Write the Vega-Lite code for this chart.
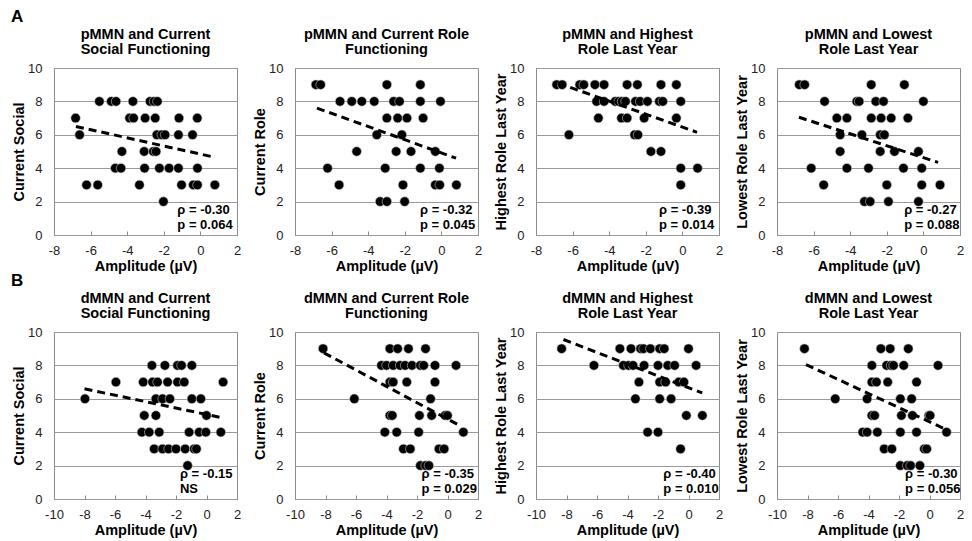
{
  "$schema": "https://vega.github.io/schema/vega-lite/v6.json",
  "padding": {"left": 11, "top": 8, "right": 0, "bottom": 0},
  "background": "white",
  "datasets": {
    "pts": [
      {"panel":"p1","amp":-5.52,"score":8},{"panel":"p1","amp":-4.87,"score":8},{"panel":"p1","amp":-4.61,"score":8},{"panel":"p1","amp":-3.69,"score":8},{"panel":"p1","amp":-2.75,"score":8},{"panel":"p1","amp":-2.53,"score":8},{"panel":"p1","amp":-2.35,"score":8},
      {"panel":"p1","amp":-6.82,"score":7},{"panel":"p1","amp":-3.87,"score":7},{"panel":"p1","amp":-3.65,"score":7},{"panel":"p1","amp":-3.02,"score":7},{"panel":"p1","amp":-2.47,"score":7},{"panel":"p1","amp":-1.17,"score":7},{"panel":"p1","amp":-0.17,"score":7},
      {"panel":"p1","amp":-6.6,"score":6},{"panel":"p1","amp":-2.38,"score":6},{"panel":"p1","amp":-2.11,"score":6},{"panel":"p1","amp":-1.93,"score":6},{"panel":"p1","amp":-1.2,"score":6},{"panel":"p1","amp":-0.43,"score":6},
      {"panel":"p1","amp":-4.29,"score":5},{"panel":"p1","amp":-3.07,"score":5},{"panel":"p1","amp":-2.57,"score":5},{"panel":"p1","amp":-2.42,"score":5},
      {"panel":"p1","amp":-4.65,"score":4},{"panel":"p1","amp":-4.34,"score":4},{"panel":"p1","amp":-3.05,"score":4},{"panel":"p1","amp":-2.24,"score":4},{"panel":"p1","amp":-1.71,"score":4},{"panel":"p1","amp":-1.2,"score":4},{"panel":"p1","amp":-0.16,"score":4},
      {"panel":"p1","amp":-6.22,"score":3},{"panel":"p1","amp":-5.61,"score":3},{"panel":"p1","amp":-3.33,"score":3},{"panel":"p1","amp":-1.03,"score":3},{"panel":"p1","amp":-0.39,"score":3},{"panel":"p1","amp":-0.16,"score":3},{"panel":"p1","amp":0.79,"score":3},
      {"panel":"p1","amp":-2.02,"score":2},

      {"panel":"p2","amp":-6.86,"score":9},{"panel":"p2","amp":-6.6,"score":9},{"panel":"p2","amp":-2.98,"score":9},{"panel":"p2","amp":-1.15,"score":9},
      {"panel":"p2","amp":-5.54,"score":8},{"panel":"p2","amp":-4.9,"score":8},{"panel":"p2","amp":-4.35,"score":8},{"panel":"p2","amp":-3.67,"score":8},{"panel":"p2","amp":-2.61,"score":8},{"panel":"p2","amp":-2.29,"score":8},{"panel":"p2","amp":-1.15,"score":8},{"panel":"p2","amp":-0.05,"score":8},
      {"panel":"p2","amp":-2.98,"score":7},{"panel":"p2","amp":-2.39,"score":7},{"panel":"p2","amp":-1.88,"score":7},{"panel":"p2","amp":-1.0,"score":7},
      {"panel":"p2","amp":-3.53,"score":6},{"panel":"p2","amp":-2.16,"score":6},
      {"panel":"p2","amp":-4.63,"score":5},{"panel":"p2","amp":-2.47,"score":5},{"panel":"p2","amp":-1.66,"score":5},{"panel":"p2","amp":-0.33,"score":5},
      {"panel":"p2","amp":-6.22,"score":4},{"panel":"p2","amp":-3.07,"score":4},{"panel":"p2","amp":-1.15,"score":4},{"panel":"p2","amp":-0.11,"score":4},
      {"panel":"p2","amp":-5.59,"score":3},{"panel":"p2","amp":-2.1,"score":3},{"panel":"p2","amp":-0.33,"score":3},{"panel":"p2","amp":-0.09,"score":3},{"panel":"p2","amp":0.82,"score":3},
      {"panel":"p2","amp":-3.35,"score":2},{"panel":"p2","amp":-2.98,"score":2},{"panel":"p2","amp":-2.01,"score":2},

      {"panel":"p3","amp":-6.87,"score":9},{"panel":"p3","amp":-6.57,"score":9},{"panel":"p3","amp":-5.61,"score":9},{"panel":"p3","amp":-5.39,"score":9},{"panel":"p3","amp":-4.78,"score":9},{"panel":"p3","amp":-4.28,"score":9},{"panel":"p3","amp":-3.02,"score":9},{"panel":"p3","amp":-2.46,"score":9},{"panel":"p3","amp":-1.17,"score":9},{"panel":"p3","amp":-0.33,"score":9},
      {"panel":"p3","amp":-4.69,"score":8},{"panel":"p3","amp":-4.28,"score":8},{"panel":"p3","amp":-3.67,"score":8},{"panel":"p3","amp":-3.48,"score":8},{"panel":"p3","amp":-3.3,"score":8},{"panel":"p3","amp":-3.11,"score":8},{"panel":"p3","amp":-2.56,"score":8},{"panel":"p3","amp":-2.31,"score":8},{"panel":"p3","amp":-1.91,"score":8},{"panel":"p3","amp":-1.26,"score":8},{"panel":"p3","amp":-1.07,"score":8},{"panel":"p3","amp":-0.09,"score":8},
      {"panel":"p3","amp":-4.59,"score":7},{"panel":"p3","amp":-3.33,"score":7},{"panel":"p3","amp":-3.02,"score":7},{"panel":"p3","amp":-2.09,"score":7},{"panel":"p3","amp":-0.33,"score":7},
      {"panel":"p3","amp":-6.2,"score":6},{"panel":"p3","amp":-2.61,"score":6},{"panel":"p3","amp":-2.43,"score":6},
      {"panel":"p3","amp":-1.72,"score":5},{"panel":"p3","amp":-1.17,"score":5},
      {"panel":"p3","amp":-0.09,"score":4},{"panel":"p3","amp":0.83,"score":4},
      {"panel":"p3","amp":-0.09,"score":3},

      {"panel":"p4","amp":-6.78,"score":9},{"panel":"p4","amp":-6.49,"score":9},{"panel":"p4","amp":-2.85,"score":9},{"panel":"p4","amp":-1.04,"score":9},
      {"panel":"p4","amp":-5.4,"score":8},{"panel":"p4","amp":-3.64,"score":8},{"panel":"p4","amp":-3.51,"score":8},{"panel":"p4","amp":-2.6,"score":8},{"panel":"p4","amp":-2.18,"score":8},{"panel":"p4","amp":0.0,"score":8},
      {"panel":"p4","amp":-4.73,"score":7},{"panel":"p4","amp":-4.18,"score":7},{"panel":"p4","amp":-2.85,"score":7},{"panel":"p4","amp":-2.31,"score":7},{"panel":"p4","amp":-1.76,"score":7},{"panel":"p4","amp":-0.85,"score":7},
      {"panel":"p4","amp":-4.55,"score":6},{"panel":"p4","amp":-3.36,"score":6},{"panel":"p4","amp":-2.36,"score":6},{"panel":"p4","amp":-2.13,"score":6},
      {"panel":"p4","amp":-4.55,"score":5},{"panel":"p4","amp":-2.36,"score":5},{"panel":"p4","amp":-1.58,"score":5},{"panel":"p4","amp":-0.27,"score":5},
      {"panel":"p4","amp":-6.13,"score":4},{"panel":"p4","amp":-4.18,"score":4},{"panel":"p4","amp":-3.0,"score":4},{"panel":"p4","amp":-1.09,"score":4},{"panel":"p4","amp":-0.09,"score":4},
      {"panel":"p4","amp":-5.45,"score":3},{"panel":"p4","amp":-2.0,"score":3},{"panel":"p4","amp":-0.09,"score":3},{"panel":"p4","amp":0.91,"score":3},
      {"panel":"p4","amp":-3.22,"score":2},{"panel":"p4","amp":-2.91,"score":2},{"panel":"p4","amp":-1.91,"score":2},{"panel":"p4","amp":-0.27,"score":2},

      {"panel":"p5","amp":-3.58,"score":8},{"panel":"p5","amp":-2.73,"score":8},{"panel":"p5","amp":-1.9,"score":8},{"panel":"p5","amp":-1.64,"score":8},{"panel":"p5","amp":-0.96,"score":8},
      {"panel":"p5","amp":-5.94,"score":7},{"panel":"p5","amp":-4.15,"score":7},{"panel":"p5","amp":-3.54,"score":7},{"panel":"p5","amp":-3.21,"score":7},{"panel":"p5","amp":-2.55,"score":7},{"panel":"p5","amp":-1.9,"score":7},{"panel":"p5","amp":-1.46,"score":7},{"panel":"p5","amp":1.09,"score":7},
      {"panel":"p5","amp":-7.97,"score":6},{"panel":"p5","amp":-3.32,"score":6},{"panel":"p5","amp":-2.88,"score":6},{"panel":"p5","amp":-2.4,"score":6},{"panel":"p5","amp":-0.96,"score":6},{"panel":"p5","amp":-0.37,"score":6},
      {"panel":"p5","amp":-4.08,"score":5},{"panel":"p5","amp":-3.32,"score":5},{"panel":"p5","amp":0.0,"score":5},
      {"panel":"p5","amp":-4.24,"score":4},{"panel":"p5","amp":-3.76,"score":4},{"panel":"p5","amp":-3.1,"score":4},{"panel":"p5","amp":-1.14,"score":4},{"panel":"p5","amp":-0.48,"score":4},{"panel":"p5","amp":-0.04,"score":4},{"panel":"p5","amp":0.94,"score":4},
      {"panel":"p5","amp":-3.43,"score":3},{"panel":"p5","amp":-2.88,"score":3},{"panel":"p5","amp":-2.49,"score":3},{"panel":"p5","amp":-2.0,"score":3},{"panel":"p5","amp":-1.4,"score":3},{"panel":"p5","amp":-0.81,"score":3},{"panel":"p5","amp":-0.66,"score":3},
      {"panel":"p5","amp":-1.24,"score":2},

      {"panel":"p6","amp":-8.16,"score":9},{"panel":"p6","amp":-3.78,"score":9},{"panel":"p6","amp":-3.27,"score":9},{"panel":"p6","amp":-2.56,"score":9},{"panel":"p6","amp":-1.44,"score":9},
      {"panel":"p6","amp":-4.33,"score":8},{"panel":"p6","amp":-4.0,"score":8},{"panel":"p6","amp":-3.56,"score":8},{"panel":"p6","amp":-3.11,"score":8},{"panel":"p6","amp":-2.78,"score":8},{"panel":"p6","amp":-2.33,"score":8},{"panel":"p6","amp":-1.78,"score":8},{"panel":"p6","amp":-1.56,"score":8},{"panel":"p6","amp":-0.82,"score":8},{"panel":"p6","amp":0.56,"score":8},
      {"panel":"p6","amp":-3.78,"score":7},{"panel":"p6","amp":-3.56,"score":7},{"panel":"p6","amp":-2.67,"score":7},{"panel":"p6","amp":-0.82,"score":7},
      {"panel":"p6","amp":-6.11,"score":6},{"panel":"p6","amp":-1.11,"score":6},
      {"panel":"p6","amp":-3.78,"score":5},{"panel":"p6","amp":-3.62,"score":5},{"panel":"p6","amp":-1.84,"score":5},{"panel":"p6","amp":-1.04,"score":5},{"panel":"p6","amp":-0.16,"score":5},{"panel":"p6","amp":0.0,"score":5},
      {"panel":"p6","amp":-4.11,"score":4},{"panel":"p6","amp":-3.33,"score":4},{"panel":"p6","amp":-1.89,"score":4},{"panel":"p6","amp":1.04,"score":4},
      {"panel":"p6","amp":-2.89,"score":3},{"panel":"p6","amp":-2.44,"score":3},{"panel":"p6","amp":-0.56,"score":3},{"panel":"p6","amp":-0.22,"score":3},
      {"panel":"p6","amp":-1.78,"score":2},{"panel":"p6","amp":-1.44,"score":2},{"panel":"p6","amp":-1.22,"score":2},

      {"panel":"p7","amp":-8.32,"score":9},{"panel":"p7","amp":-4.5,"score":9},{"panel":"p7","amp":-3.77,"score":9},{"panel":"p7","amp":-3.14,"score":9},{"panel":"p7","amp":-2.95,"score":9},{"panel":"p7","amp":-2.5,"score":9},{"panel":"p7","amp":-1.89,"score":9},{"panel":"p7","amp":-1.59,"score":9},{"panel":"p7","amp":0.0,"score":9},
      {"panel":"p7","amp":-6.2,"score":8},{"panel":"p7","amp":-4.27,"score":8},{"panel":"p7","amp":-3.93,"score":8},{"panel":"p7","amp":-3.64,"score":8},{"panel":"p7","amp":-2.91,"score":8},{"panel":"p7","amp":-2.0,"score":8},{"panel":"p7","amp":-1.36,"score":8},{"panel":"p7","amp":-0.91,"score":8},{"panel":"p7","amp":0.5,"score":8},
      {"panel":"p7","amp":-3.25,"score":7},{"panel":"p7","amp":-1.89,"score":7},{"panel":"p7","amp":-1.5,"score":7},{"panel":"p7","amp":-0.64,"score":7},{"panel":"p7","amp":-0.3,"score":7},
      {"panel":"p7","amp":-3.48,"score":6},{"panel":"p7","amp":-1.89,"score":6},{"panel":"p7","amp":-1.14,"score":6},
      {"panel":"p7","amp":-0.14,"score":5},{"panel":"p7","amp":0.91,"score":5},
      {"panel":"p7","amp":-2.68,"score":4},{"panel":"p7","amp":-2.0,"score":4},
      {"panel":"p7","amp":-0.52,"score":3},

      {"panel":"p8","amp":-8.2,"score":9},{"panel":"p8","amp":-3.19,"score":9},{"panel":"p8","amp":-2.58,"score":9},{"panel":"p8","amp":-1.39,"score":9},
      {"panel":"p8","amp":-3.78,"score":8},{"panel":"p8","amp":-2.81,"score":8},{"panel":"p8","amp":-2.52,"score":8},{"panel":"p8","amp":-2.36,"score":8},{"panel":"p8","amp":-1.69,"score":8},{"panel":"p8","amp":0.56,"score":8},
      {"panel":"p8","amp":-3.78,"score":7},{"panel":"p8","amp":-3.48,"score":7},{"panel":"p8","amp":-2.74,"score":7},{"panel":"p8","amp":-0.85,"score":7},
      {"panel":"p8","amp":-6.18,"score":6},{"panel":"p8","amp":-4.09,"score":6},{"panel":"p8","amp":-1.91,"score":6},{"panel":"p8","amp":-1.17,"score":6},
      {"panel":"p8","amp":-3.78,"score":5},{"panel":"p8","amp":-3.6,"score":5},{"panel":"p8","amp":-1.84,"score":5},{"panel":"p8","amp":-1.12,"score":5},{"panel":"p8","amp":-0.04,"score":5},{"panel":"p8","amp":0.04,"score":5},
      {"panel":"p8","amp":-4.38,"score":4},{"panel":"p8","amp":-4.09,"score":4},{"panel":"p8","amp":-3.42,"score":4},{"panel":"p8","amp":-1.91,"score":4},{"panel":"p8","amp":-0.85,"score":4},{"panel":"p8","amp":1.12,"score":4},
      {"panel":"p8","amp":-2.97,"score":3},{"panel":"p8","amp":-2.47,"score":3},{"panel":"p8","amp":-0.34,"score":3},{"panel":"p8","amp":-0.18,"score":3},
      {"panel":"p8","amp":-1.91,"score":2},{"panel":"p8","amp":-1.46,"score":2},{"panel":"p8","amp":-1.24,"score":2},{"panel":"p8","amp":-0.63,"score":2}
    ],
    "fits": [
      {"panel":"p1","amp":-6.8,"score":6.5},{"panel":"p1","amp":0.8,"score":4.65},
      {"panel":"p2","amp":-6.8,"score":7.6},{"panel":"p2","amp":0.8,"score":4.6},
      {"panel":"p3","amp":-6.8,"score":9.1},{"panel":"p3","amp":0.8,"score":6.15},
      {"panel":"p4","amp":-6.8,"score":7.05},{"panel":"p4","amp":0.8,"score":4.35},
      {"panel":"p5","amp":-8.0,"score":6.6},{"panel":"p5","amp":0.85,"score":4.9},
      {"panel":"p6","amp":-8.1,"score":8.75},{"panel":"p6","amp":0.9,"score":4.35},
      {"panel":"p7","amp":-8.2,"score":9.55},{"panel":"p7","amp":0.9,"score":6.35},
      {"panel":"p8","amp":-8.1,"score":8.05},{"panel":"p8","amp":1.0,"score":4.2}
    ],
    "notes": [
      {"panel":"p1","label":"ρ = -0.30\np = 0.064"},
      {"panel":"p2","label":"ρ = -0.32\np = 0.045"},
      {"panel":"p3","label":"ρ = -0.39\np = 0.014"},
      {"panel":"p4","label":"ρ = -0.27\np = 0.088"},
      {"panel":"p5","label":"ρ = -0.15\nNS"},
      {"panel":"p6","label":"ρ = -0.35\np = 0.029"},
      {"panel":"p7","label":"ρ = -0.40\np = 0.010"},
      {"panel":"p8","label":"ρ = -0.30\np = 0.056"}
    ]
  },
  "spacing": -2,
  "vconcat": [
    {
      "title": {"text": "A", "anchor": "start", "fontSize": 17, "offset": 0},
      "spacing": 10,
      "hconcat": [
        {
          "title": {"text": ["pMMN and Current", "Social Functioning"]},
          "width": 183, "height": 167,
          "layer": [
            {
              "encoding": {
                "x": {"field": "amp", "type": "quantitative", "scale": {"domain": [-8, 2]}, "axis": {"title": "Amplitude (µV)"}},
                "y": {"field": "score", "type": "quantitative", "scale": {"domain": [0, 10]}, "axis": {"title": "Current Social"}}
              },
              "layer": [
                {"data": {"name": "pts"}, "transform": [{"filter": "datum.panel == 'p1'"}], "mark": {"type": "circle", "size": 90, "color": "#000", "opacity": 1, "stroke": "#c8c8c8", "strokeWidth": 0.6}},
                {"data": {"name": "fits"}, "transform": [{"filter": "datum.panel == 'p1'"}], "mark": {"type": "line", "color": "#000", "strokeWidth": 3, "strokeDash": [8, 5]}, "encoding": {}}
              ]
            },
            {"data": {"name": "notes"}, "transform": [{"filter": "datum.panel == 'p1'"}], "mark": {"type": "text", "align": "left", "baseline": "alphabetic", "fontSize": 13, "fontWeight": "bold", "lineBreak": "\n", "lineHeight": 15, "color": "#000"}, "encoding": {"x": {"datum": -1.26, "type": "quantitative", "title": "Amplitude (µV)"}, "y": {"datum": 1.28, "type": "quantitative", "title": "Current Social"}, "text": {"field": "label"}}}
          ]
        },
        {
          "title": {"text": ["pMMN and Current Role", "Functioning"]},
          "width": 183, "height": 167,
          "layer": [
            {
              "encoding": {
                "x": {"field": "amp", "type": "quantitative", "scale": {"domain": [-8, 2]}, "axis": {"title": "Amplitude (µV)"}},
                "y": {"field": "score", "type": "quantitative", "scale": {"domain": [0, 10]}, "axis": {"title": "Current Role"}}
              },
              "layer": [
                {"data": {"name": "pts"}, "transform": [{"filter": "datum.panel == 'p2'"}], "mark": {"type": "circle", "size": 90, "color": "#000", "opacity": 1, "stroke": "#c8c8c8", "strokeWidth": 0.6}},
                {"data": {"name": "fits"}, "transform": [{"filter": "datum.panel == 'p2'"}], "mark": {"type": "line", "color": "#000", "strokeWidth": 3, "strokeDash": [8, 5]}, "encoding": {}}
              ]
            },
            {"data": {"name": "notes"}, "transform": [{"filter": "datum.panel == 'p2'"}], "mark": {"type": "text", "align": "left", "baseline": "alphabetic", "fontSize": 13, "fontWeight": "bold", "lineBreak": "\n", "lineHeight": 15, "color": "#000"}, "encoding": {"x": {"datum": -1.17, "type": "quantitative", "title": "Amplitude (µV)"}, "y": {"datum": 1.28, "type": "quantitative", "title": "Current Role"}, "text": {"field": "label"}}}
          ]
        },
        {
          "title": {"text": ["pMMN and Highest", "Role Last Year"]},
          "width": 183, "height": 167,
          "layer": [
            {
              "encoding": {
                "x": {"field": "amp", "type": "quantitative", "scale": {"domain": [-8, 2]}, "axis": {"title": "Amplitude (µV)"}},
                "y": {"field": "score", "type": "quantitative", "scale": {"domain": [0, 10]}, "axis": {"title": "Highest Role Last Year"}}
              },
              "layer": [
                {"data": {"name": "pts"}, "transform": [{"filter": "datum.panel == 'p3'"}], "mark": {"type": "circle", "size": 90, "color": "#000", "opacity": 1, "stroke": "#c8c8c8", "strokeWidth": 0.6}},
                {"data": {"name": "fits"}, "transform": [{"filter": "datum.panel == 'p3'"}], "mark": {"type": "line", "color": "#000", "strokeWidth": 3, "strokeDash": [8, 5]}, "encoding": {}}
              ]
            },
            {"data": {"name": "notes"}, "transform": [{"filter": "datum.panel == 'p3'"}], "mark": {"type": "text", "align": "left", "baseline": "alphabetic", "fontSize": 13, "fontWeight": "bold", "lineBreak": "\n", "lineHeight": 15, "color": "#000"}, "encoding": {"x": {"datum": -1.28, "type": "quantitative", "title": "Amplitude (µV)"}, "y": {"datum": 1.28, "type": "quantitative", "title": "Highest Role Last Year"}, "text": {"field": "label"}}}
          ]
        },
        {
          "title": {"text": ["pMMN and Lowest", "Role Last Year"]},
          "width": 183, "height": 167,
          "layer": [
            {
              "encoding": {
                "x": {"field": "amp", "type": "quantitative", "scale": {"domain": [-8, 2]}, "axis": {"title": "Amplitude (µV)"}},
                "y": {"field": "score", "type": "quantitative", "scale": {"domain": [0, 10]}, "axis": {"title": "Lowest Role Last Year"}}
              },
              "layer": [
                {"data": {"name": "pts"}, "transform": [{"filter": "datum.panel == 'p4'"}], "mark": {"type": "circle", "size": 90, "color": "#000", "opacity": 1, "stroke": "#c8c8c8", "strokeWidth": 0.6}},
                {"data": {"name": "fits"}, "transform": [{"filter": "datum.panel == 'p4'"}], "mark": {"type": "line", "color": "#000", "strokeWidth": 3, "strokeDash": [8, 5]}, "encoding": {}}
              ]
            },
            {"data": {"name": "notes"}, "transform": [{"filter": "datum.panel == 'p4'"}], "mark": {"type": "text", "align": "left", "baseline": "alphabetic", "fontSize": 13, "fontWeight": "bold", "lineBreak": "\n", "lineHeight": 15, "color": "#000"}, "encoding": {"x": {"datum": -1.05, "type": "quantitative", "title": "Amplitude (µV)"}, "y": {"datum": 1.28, "type": "quantitative", "title": "Lowest Role Last Year"}, "text": {"field": "label"}}}
          ]
        }
      ]
    },
    {
      "title": {"text": "B", "anchor": "start", "fontSize": 17, "offset": 0},
      "spacing": 10,
      "hconcat": [
        {
          "title": {"text": ["dMMN and Current", "Social Functioning"]},
          "width": 183, "height": 167,
          "layer": [
            {
              "encoding": {
                "x": {"field": "amp", "type": "quantitative", "scale": {"domain": [-10, 2]}, "axis": {"title": "Amplitude (µV)"}},
                "y": {"field": "score", "type": "quantitative", "scale": {"domain": [0, 10]}, "axis": {"title": "Current Social"}}
              },
              "layer": [
                {"data": {"name": "pts"}, "transform": [{"filter": "datum.panel == 'p5'"}], "mark": {"type": "circle", "size": 90, "color": "#000", "opacity": 1, "stroke": "#c8c8c8", "strokeWidth": 0.6}},
                {"data": {"name": "fits"}, "transform": [{"filter": "datum.panel == 'p5'"}], "mark": {"type": "line", "color": "#000", "strokeWidth": 3, "strokeDash": [8, 5]}, "encoding": {}}
              ]
            },
            {"data": {"name": "notes"}, "transform": [{"filter": "datum.panel == 'p5'"}], "mark": {"type": "text", "align": "left", "baseline": "alphabetic", "fontSize": 13, "fontWeight": "bold", "lineBreak": "\n", "lineHeight": 15, "color": "#000"}, "encoding": {"x": {"datum": -1.74, "type": "quantitative", "title": "Amplitude (µV)"}, "y": {"datum": 1.28, "type": "quantitative", "title": "Current Social"}, "text": {"field": "label"}}}
          ]
        },
        {
          "title": {"text": ["dMMN and Current Role", "Functioning"]},
          "width": 183, "height": 167,
          "layer": [
            {
              "encoding": {
                "x": {"field": "amp", "type": "quantitative", "scale": {"domain": [-10, 2]}, "axis": {"title": "Amplitude (µV)"}},
                "y": {"field": "score", "type": "quantitative", "scale": {"domain": [0, 10]}, "axis": {"title": "Current Role"}}
              },
              "layer": [
                {"data": {"name": "pts"}, "transform": [{"filter": "datum.panel == 'p6'"}], "mark": {"type": "circle", "size": 90, "color": "#000", "opacity": 1, "stroke": "#c8c8c8", "strokeWidth": 0.6}},
                {"data": {"name": "fits"}, "transform": [{"filter": "datum.panel == 'p6'"}], "mark": {"type": "line", "color": "#000", "strokeWidth": 3, "strokeDash": [8, 5]}, "encoding": {}}
              ]
            },
            {"data": {"name": "notes"}, "transform": [{"filter": "datum.panel == 'p6'"}], "mark": {"type": "text", "align": "left", "baseline": "alphabetic", "fontSize": 13, "fontWeight": "bold", "lineBreak": "\n", "lineHeight": 15, "color": "#000"}, "encoding": {"x": {"datum": -1.7, "type": "quantitative", "title": "Amplitude (µV)"}, "y": {"datum": 1.28, "type": "quantitative", "title": "Current Role"}, "text": {"field": "label"}}}
          ]
        },
        {
          "title": {"text": ["dMMN and Highest", "Role Last Year"]},
          "width": 183, "height": 167,
          "layer": [
            {
              "encoding": {
                "x": {"field": "amp", "type": "quantitative", "scale": {"domain": [-10, 2]}, "axis": {"title": "Amplitude (µV)"}},
                "y": {"field": "score", "type": "quantitative", "scale": {"domain": [0, 10]}, "axis": {"title": "Highest Role Last Year"}}
              },
              "layer": [
                {"data": {"name": "pts"}, "transform": [{"filter": "datum.panel == 'p7'"}], "mark": {"type": "circle", "size": 90, "color": "#000", "opacity": 1, "stroke": "#c8c8c8", "strokeWidth": 0.6}},
                {"data": {"name": "fits"}, "transform": [{"filter": "datum.panel == 'p7'"}], "mark": {"type": "line", "color": "#000", "strokeWidth": 3, "strokeDash": [8, 5]}, "encoding": {}}
              ]
            },
            {"data": {"name": "notes"}, "transform": [{"filter": "datum.panel == 'p7'"}], "mark": {"type": "text", "align": "left", "baseline": "alphabetic", "fontSize": 13, "fontWeight": "bold", "lineBreak": "\n", "lineHeight": 15, "color": "#000"}, "encoding": {"x": {"datum": -1.65, "type": "quantitative", "title": "Amplitude (µV)"}, "y": {"datum": 1.28, "type": "quantitative", "title": "Highest Role Last Year"}, "text": {"field": "label"}}}
          ]
        },
        {
          "title": {"text": ["dMMN and Lowest", "Role Last Year"]},
          "width": 183, "height": 167,
          "layer": [
            {
              "encoding": {
                "x": {"field": "amp", "type": "quantitative", "scale": {"domain": [-10, 2]}, "axis": {"title": "Amplitude (µV)"}},
                "y": {"field": "score", "type": "quantitative", "scale": {"domain": [0, 10]}, "axis": {"title": "Lowest Role Last Year"}}
              },
              "layer": [
                {"data": {"name": "pts"}, "transform": [{"filter": "datum.panel == 'p8'"}], "mark": {"type": "circle", "size": 90, "color": "#000", "opacity": 1, "stroke": "#c8c8c8", "strokeWidth": 0.6}},
                {"data": {"name": "fits"}, "transform": [{"filter": "datum.panel == 'p8'"}], "mark": {"type": "line", "color": "#000", "strokeWidth": 3, "strokeDash": [8, 5]}, "encoding": {}}
              ]
            },
            {"data": {"name": "notes"}, "transform": [{"filter": "datum.panel == 'p8'"}], "mark": {"type": "text", "align": "left", "baseline": "alphabetic", "fontSize": 13, "fontWeight": "bold", "lineBreak": "\n", "lineHeight": 15, "color": "#000"}, "encoding": {"x": {"datum": -1.6, "type": "quantitative", "title": "Amplitude (µV)"}, "y": {"datum": 1.28, "type": "quantitative", "title": "Lowest Role Last Year"}, "text": {"field": "label"}}}
          ]
        }
      ]
    }
  ],
  "config": {
    "font": "Liberation Sans",
    "view": {"stroke": "#8c8c8c", "strokeWidth": 1},
    "title": {"font": "Liberation Sans", "fontSize": 14.5, "fontWeight": "bold", "color": "#000", "lineHeight": 15, "offset": 5},
    "axis": {
      "labelFont": "Liberation Sans", "labelFontSize": 13, "labelColor": "#222",
      "titleFont": "Liberation Sans", "titleFontSize": 14.5, "titleFontWeight": "bold", "titleColor": "#000",
      "domain": false, "tickCount": 5, "labelExpr": "'' + datum.value"
    },
    "axisX": {"grid": false, "ticks": true, "tickSize": -4, "tickColor": "#8c8c8c", "labelPadding": 13.5, "titlePadding": 2, "labelFlush": false},
    "axisY": {"grid": true, "gridColor": "#9a9a9a", "ticks": false, "labelPadding": 12, "titlePadding": 1}
  }
}
